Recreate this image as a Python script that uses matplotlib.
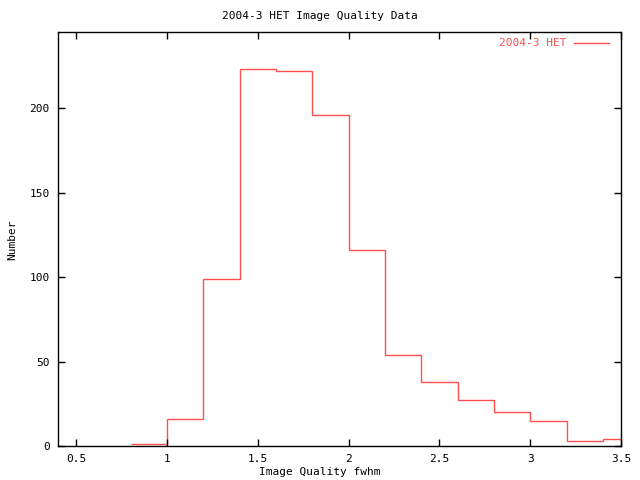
import matplotlib
matplotlib.use("Agg")
import matplotlib.pyplot as plt
from matplotlib.lines import Line2D

# histogram bins (image quality fwhm) and counts
bin_edges = [0.8, 1.0, 1.2, 1.4, 1.6, 1.8, 2.0, 2.2, 2.4, 2.6, 2.8, 3.0, 3.2, 3.4, 3.5]
counts = [1, 16, 99, 223, 222, 196, 116, 54, 38, 27, 20, 15, 3, 4]
series_name = "2004-3 HET"
xticks = [0.5, 1, 1.5, 2, 2.5, 3, 3.5]
xticklabels = ["0.5", "1", "1.5", "2", "2.5", "3", "3.5"]
yticks = [0, 50, 100, 150, 200]

red = "#ff5050"
font = "DejaVu Sans Mono"
plt.rcParams["font.family"] = font
plt.rcParams["font.size"] = 8

fig = plt.figure(figsize=(6.4, 4.8), dpi=100)
ax = fig.add_axes([58 / 640, 34 / 480, 563 / 640, 414 / 480])

ax.stairs(counts, bin_edges, baseline=None, color=red, linewidth=1.0)

ax.set_xlim(0.4, 3.5)
ax.set_ylim(0, 245)
ax.set_xticks(xticks)
ax.set_xticklabels(xticklabels)
ax.set_yticks(yticks)
ax.tick_params(direction="in", length=5, width=1, top=True, right=True,
               labelsize=8, pad=6)
for sp in ax.spines.values():
    sp.set_linewidth(1)

fig.text(0.5, 1 - 472 / 480, "Image Quality fwhm", ha="center", va="center",
         fontsize=8)
fig.text(12 / 640, 0.5, "Number", rotation=90, ha="center", va="center",
         fontsize=8)
fig.text(0.5, 1 - 16 / 480, "2004-3 HET Image Quality Data",
         ha="center", va="center", fontsize=8)

# gnuplot-style key in the top right corner
ax.text(0.903, 0.973, series_name, transform=ax.transAxes, color=red,
        ha="right", va="center", fontsize=8)
ax.add_line(Line2D([0.917, 0.978], [0.973, 0.973], transform=ax.transAxes,
                   color=red, linewidth=1.0))

fig.savefig("out.png", dpi=100)
